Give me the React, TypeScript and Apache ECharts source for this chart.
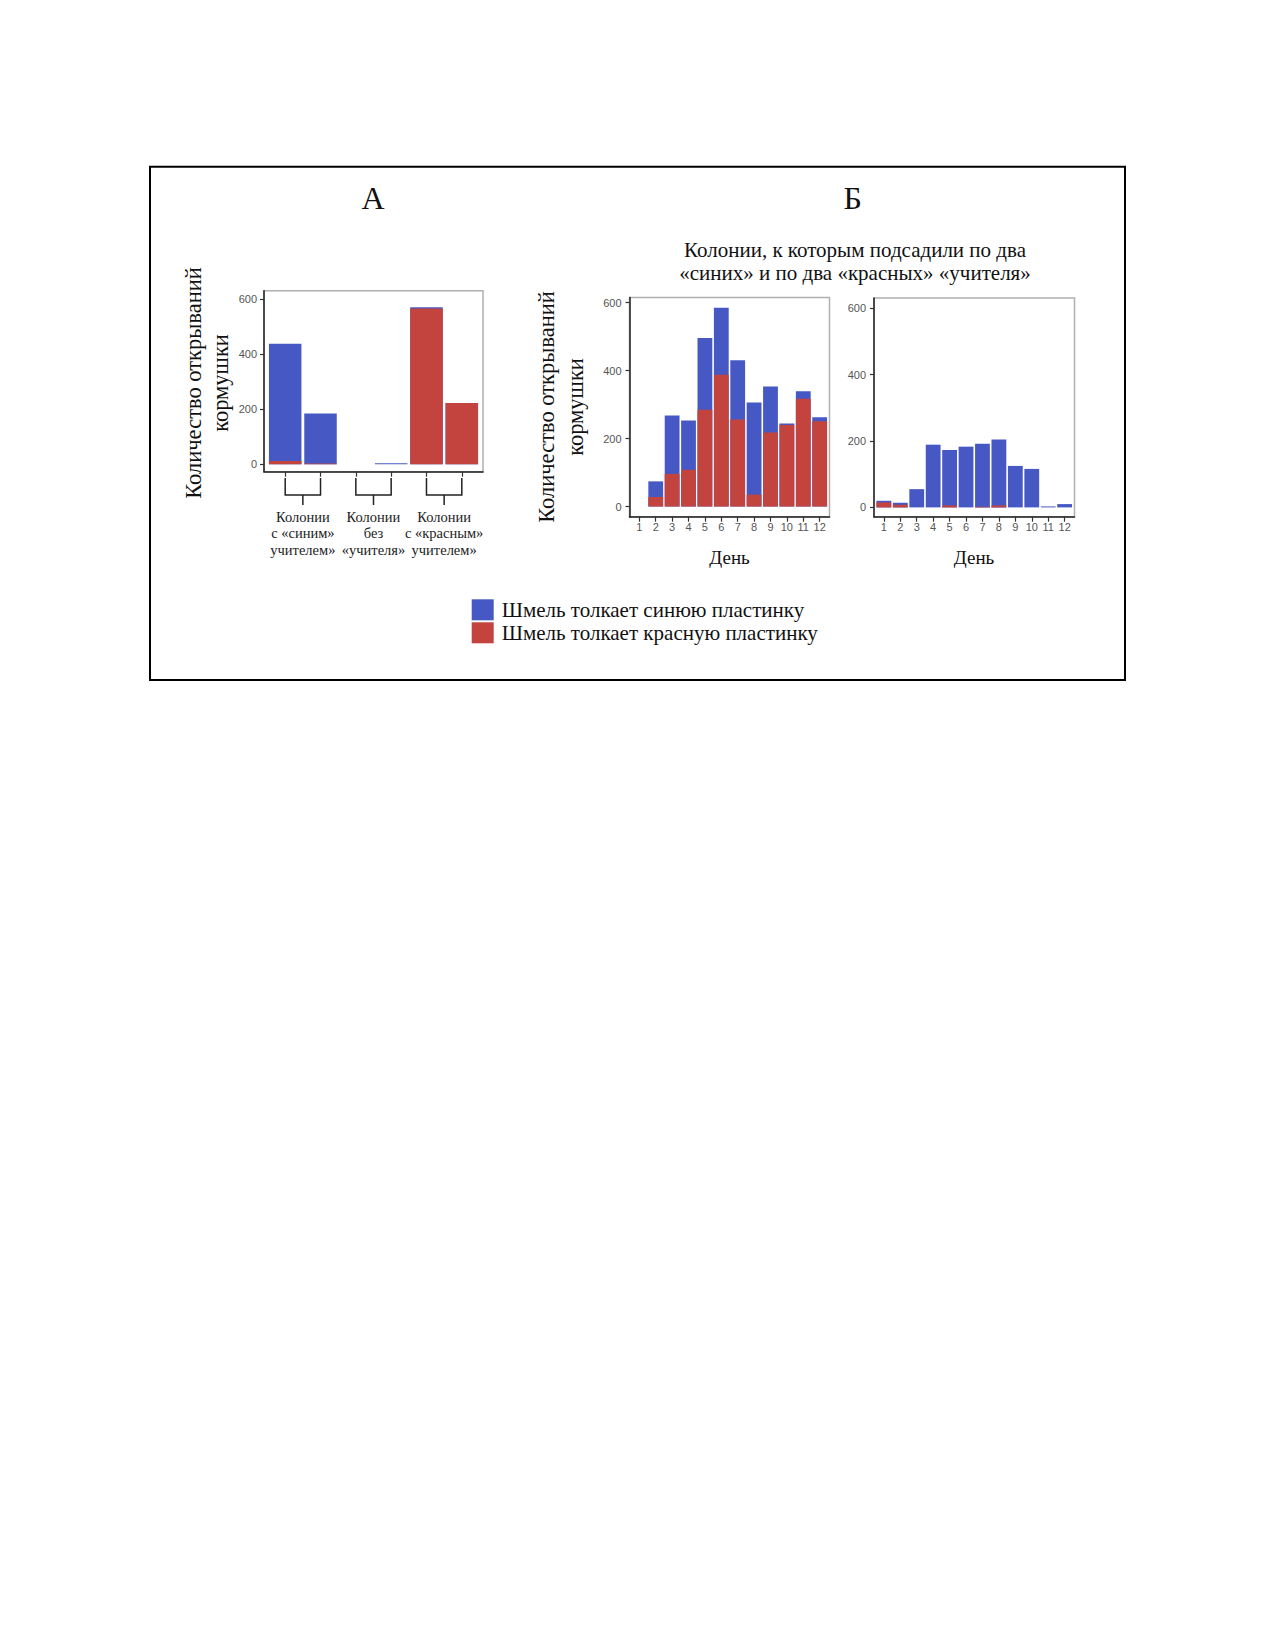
import React, { useEffect, useRef } from "react";
import * as echarts from "echarts";

const BLUE_NAME = "Шмель толкает синюю пластинку";
const RED_NAME = "Шмель толкает красную пластинку";
const BLUE = "#4658C4";
const RED = "#C3433E";

// Panel A: six bars (two per colony group)
const positionsA = [1, 2, 3, 4, 5, 6];
const blueA = [437, 184, 0, 4, 570, 222];
const redA = [12, 3, 0, 0, 565, 222];
const groupLabelsA = [
  "Колонии\nс «синим»\nучителем»",
  "Колонии\nбез\n«учителя»",
  "Колонии\nс «красным»\nучителем»",
];

// Panel B: days 1..12
const days = [1, 2, 3, 4, 5, 6, 7, 8, 9, 10, 11, 12];
const blueB1 = [0, 74, 268, 253, 496, 585, 430, 306, 353, 244, 339, 263];
const redB1 = [0, 28, 96, 108, 285, 388, 256, 35, 218, 240, 317, 251];
const blueB2 = [20, 14, 55, 189, 173, 183, 192, 205, 125, 116, 3, 10];
const redB2 = [15, 8, 0, 0, 6, 0, 2, 6, 0, 0, 0, 0];

const yTicks = [0, 200, 400, 600];

const SERIF = "'Liberation Serif', 'DejaVu Serif', serif";
const SANS = "'Liberation Sans', Arial, sans-serif";

const pairs = (xs: number[], ys: number[]) => xs.map((x, i) => [x, ys[i]]);

const axisLineStyle = { color: "#222", width: 1.5 };

function xAxisDef(gridIndex: number, maxV: number, ticks: number[], showLabels: boolean) {
  return {
    type: "value",
    gridIndex,
    min: 0.4,
    max: maxV + 0.6,
    axisLine: { show: true, onZero: false, lineStyle: axisLineStyle },
    axisTick: { show: true, customValues: ticks, length: 5, lineStyle: { color: "#333", width: 1.2 } },
    axisLabel: {
      show: showLabels,
      customValues: ticks,
      margin: 5,
      fontSize: 11,
      fontFamily: SANS,
      color: "#555",
    },
    splitLine: { show: false },
  };
}

function yAxisDef(gridIndex: number, minV: number, maxV: number, margin: number) {
  return {
    type: "value",
    gridIndex,
    min: minV,
    max: maxV,
    axisLine: { show: true, onZero: false, lineStyle: axisLineStyle },
    axisTick: { show: true, customValues: yTicks, length: 4, lineStyle: { color: "#333", width: 1.2 } },
    axisLabel: {
      customValues: yTicks,
      margin,
      fontSize: 11,
      fontFamily: SANS,
      color: "#555",
    },
    splitLine: { show: false },
  };
}

function barPair(idx: number, xs: number[], blue: number[], red: number[], width: number) {
  return [
    {
      type: "bar",
      name: BLUE_NAME,
      xAxisIndex: idx,
      yAxisIndex: idx,
      data: pairs(xs, blue),
      barWidth: width,
      barGap: "-100%",
      itemStyle: { color: BLUE },
      emphasis: { disabled: true },
    },
    {
      type: "bar",
      name: RED_NAME,
      xAxisIndex: idx,
      yAxisIndex: idx,
      data: pairs(xs, red),
      barWidth: width,
      barGap: "-100%",
      itemStyle: { color: RED },
      emphasis: { disabled: true },
    },
  ];
}

export default function App() {
  const ref = useRef<HTMLDivElement>(null);

  useEffect(() => {
    document.body.style.margin = "0";
    const el = ref.current;
    if (!el) return;
    const chart = echarts.init(el, undefined, { renderer: "svg" });

    const gridStyle = { show: true, borderColor: "#b0b0b0", borderWidth: 1.5, backgroundColor: "#fff" };

    chart.setOption({
      animation: false,
      backgroundColor: "#fff",
      grid: [
        { left: 264, top: 290.7, width: 219, height: 181, ...gridStyle },
        { left: 629.5, top: 297.5, width: 200, height: 219.2, ...gridStyle },
        { left: 874, top: 298, width: 200.5, height: 218.7, ...gridStyle },
      ],
      xAxis: [
        xAxisDef(0, 6, positionsA, false),
        xAxisDef(1, 12, days, true),
        xAxisDef(2, 12, days, true),
      ],
      yAxis: [yAxisDef(0, -27, 630, 7), yAxisDef(1, -30, 615, 8), yAxisDef(2, -28, 631, 8)],
      legend: {
        show: true,
        orient: "vertical",
        left: 471.7,
        top: 599.3,
        padding: 0,
        itemWidth: 22,
        itemHeight: 21,
        itemGap: 2,
        icon: "rect",
        selectedMode: false,
        data: [BLUE_NAME, RED_NAME],
        textStyle: { fontSize: 21, fontFamily: SERIF, color: "#111", padding: [0, 0, 0, 3] },
      },
      series: [
        ...barPair(0, positionsA, blueA, redA, 32.5),
        ...barPair(1, days, blueB1, redB1, 14.8),
        ...barPair(2, days, blueB2, redB2, 14.8),
      ],
    });

    const px = (v: number) => (chart.convertToPixel({ xAxisIndex: 0 } as any, v) as unknown) as number;
    const tickBottom = 478;
    const bracketY = 495;
    const graphics: any[] = [
      {
        type: "rect",
        shape: { x: 150, y: 166.7, width: 975, height: 513.3 },
        style: { fill: "none", stroke: "#000", lineWidth: 2 },
        z: 10,
      },
      {
        type: "text",
        x: 373,
        y: 198,
        style: { text: "А", font: `32px ${SERIF}`, fill: "#111", align: "center", verticalAlign: "middle" },
      },
      {
        type: "text",
        x: 852.7,
        y: 198,
        style: { text: "Б", font: `32px ${SERIF}`, fill: "#111", align: "center", verticalAlign: "middle" },
      },
      {
        type: "text",
        x: 855,
        y: 261.5,
        style: {
          text: "Колонии, к которым подсадили по два\n«синих» и по два «красных» «учителя»",
          font: `21px ${SERIF}`,
          lineHeight: 23.5,
          fill: "#111",
          align: "center",
          verticalAlign: "middle",
        },
      },
      {
        type: "text",
        x: 207,
        y: 383,
        rotation: Math.PI / 2,
        style: {
          text: "Количество открываний\nкормушки",
          font: `22.5px ${SERIF}`,
          lineHeight: 27,
          fill: "#111",
          align: "center",
          verticalAlign: "middle",
        },
      },
      {
        type: "text",
        x: 560.5,
        y: 407,
        rotation: Math.PI / 2,
        style: {
          text: "Количество открываний\nкормушки",
          font: `22.5px ${SERIF}`,
          lineHeight: 29,
          fill: "#111",
          align: "center",
          verticalAlign: "middle",
        },
      },
      {
        type: "text",
        x: 729.5,
        y: 557,
        style: { text: "День", font: `19px ${SERIF}`, fill: "#111", align: "center", verticalAlign: "middle" },
      },
      {
        type: "text",
        x: 974,
        y: 557,
        style: { text: "День", font: `19px ${SERIF}`, fill: "#111", align: "center", verticalAlign: "middle" },
      },
    ];

    for (let g = 0; g < 3; g++) {
      const x1 = px(positionsA[g * 2]);
      const x2 = px(positionsA[g * 2 + 1]);
      const xc = (x1 + x2) / 2;
      graphics.push({
        type: "polyline",
        shape: { points: [[x1, tickBottom], [x1, bracketY], [x2, bracketY], [x2, tickBottom]] },
        style: { stroke: "#222", lineWidth: 1.5, fill: "none" },
      });
      graphics.push({
        type: "line",
        shape: { x1: xc, y1: bracketY, x2: xc, y2: 505 },
        style: { stroke: "#222", lineWidth: 1.5 },
      });
      graphics.push({
        type: "text",
        x: xc,
        y: 533,
        style: {
          text: groupLabelsA[g],
          font: `14.5px ${SERIF}`,
          lineHeight: 16.5,
          fill: "#222",
          align: "center",
          verticalAlign: "middle",
        },
      });
    }

    chart.setOption({ graphic: graphics });

    return () => chart.dispose();
  }, []);

  return <div ref={ref} style={{ width: 1275, height: 1650 }} />;
}
